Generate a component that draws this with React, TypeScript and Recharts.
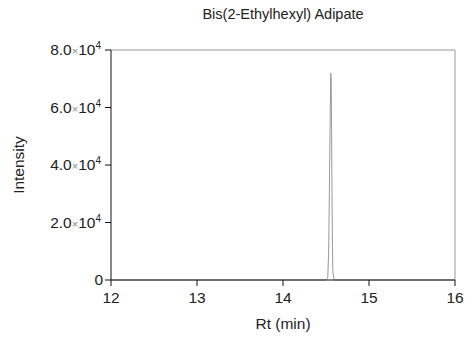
import { LineChart, Line, XAxis, YAxis, ReferenceLine } from "recharts"

const rt = [12, 14.5, 14.52, 14.53, 14.535, 14.54, 14.545, 14.55, 14.555, 14.56, 14.565, 14.57, 14.575, 14.58, 14.59, 14.6, 16]
const intensity = [0, 0, 600, 9000, 20000, 33000, 47000, 60000, 72000, 70000, 52000, 30000, 12000, 3000, 600, 0, 0]
const xTicks = [12, 13, 14, 15, 16]
const yTicks = [0, 20000, 40000, 60000, 80000]

const data = rt.map((t, i) => ({ rt: t, value: intensity[i] }))

const FONT = "'Liberation Sans', Arial, sans-serif"

const YTick = ({ x, y, payload }: { x?: number; y?: number; payload?: { value: number } }) => {
  const v = payload?.value ?? 0
  if (v === 0) {
    return (
      <text x={x} y={y} dy={5} textAnchor="end" fontSize={15.5} fill="#222" fontFamily={FONT}>
        0
      </text>
    )
  }
  const mant = (v / 10000).toFixed(1)
  return (
    <text x={(x ?? 0) - 2} y={y} dy={5} textAnchor="end" fontSize={15.5} fill="#222" fontFamily={FONT}>
      {mant}
      <tspan fontSize={11} fill="#888">×</tspan>
      <tspan>10</tspan>
      <tspan fontSize={10} dy={-6}>4</tspan>
    </text>
  )
}

export default function App() {
  return (
    <div style={{ position: "absolute", left: 0, top: 0, background: "#fff" }}>
      <div
        style={{
          position: "absolute",
          left: 111,
          width: 344,
          top: 6,
          textAlign: "center",
          fontFamily: FONT,
          fontSize: 14.5,
          color: "#222",
        }}
      >
        Bis(2-Ethylhexyl) Adipate
      </div>
      <LineChart width={466} height={340} data={data} margin={{ top: 50, right: 11, bottom: 30, left: 51 }}>
        <XAxis
          dataKey="rt"
          type="number"
          domain={[12, 16]}
          ticks={xTicks}
          allowDataOverflow
          height={30}
          stroke="#111"
          tickSize={6}
          tick={{ fontSize: 15.5, fill: "#222", fontFamily: FONT, dy: 4 }}
          label={{ value: "Rt (min)", position: "insideBottom", offset: -19, fontSize: 15.5, fill: "#222", fontFamily: FONT }}
        />
        <YAxis
          type="number"
          domain={[0, 80000]}
          ticks={yTicks}
          width={60}
          stroke="#111"
          tickSize={6}
          tick={<YTick />}
          label={{ value: "Intensity", angle: -90, position: "insideLeft", offset: -33, fontSize: 15.5, fill: "#222", fontFamily: FONT, style: { textAnchor: "middle" } }}
        />
        <ReferenceLine y={80000} stroke="#999" />
        <ReferenceLine x={16} stroke="#999" />
        <Line
          type="linear"
          dataKey="value"
          stroke="#9a9a9a"
          strokeWidth={1}
          dot={false}
          isAnimationActive={false}
        />
      </LineChart>
    </div>
  )
}
